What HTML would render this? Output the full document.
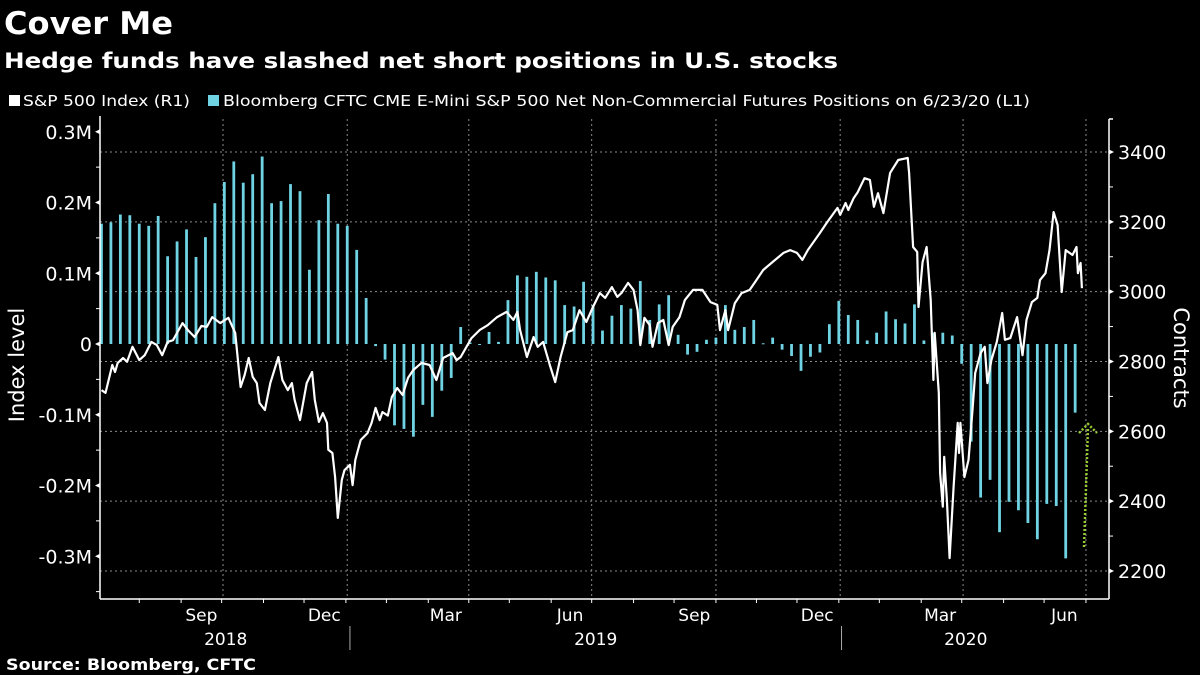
<!DOCTYPE html>
<html><head><meta charset="utf-8">
<style>
html,body{margin:0;padding:0;background:#000;width:1200px;height:675px;overflow:hidden}
svg text{font-family:"DejaVu Sans","Liberation Sans",sans-serif;fill:#fff}
</style></head>
<body>
<svg id="chart" width="1200" height="675" viewBox="0 0 1200 675" xmlns="http://www.w3.org/2000/svg">
<rect width="1200" height="675" fill="#000"/>
<text x="4" y="34" font-size="31" font-weight="bold" textLength="169" lengthAdjust="spacingAndGlyphs">Cover Me</text>
<text x="4" y="68" font-size="21" font-weight="bold" textLength="834" lengthAdjust="spacingAndGlyphs">Hedge funds have slashed net short positions in U.S. stocks</text>
<g>
<g><rect x="9" y="95" width="11" height="11" fill="#fff"/><text x="23" y="106" font-size="15" textLength="167" lengthAdjust="spacingAndGlyphs">S&amp;P 500 Index (R1)</text></g>
<g><rect x="208" y="95" width="11" height="11" fill="#6fd3e3"/><text x="223" y="106" font-size="15" textLength="807" lengthAdjust="spacingAndGlyphs">Bloomberg CFTC CME E-Mini S&amp;P 500 Net Non-Commercial Futures Positions  on 6/23/20 (L1)</text></g>
</g>
<g id="grid"></g>
<g id="bars"></g>
<g id="line"></g>
<g id="axes"></g>
<text transform="translate(24,365) rotate(-90)" text-anchor="middle" font-size="21">Index level</text>
<text transform="translate(1174,358) rotate(90)" text-anchor="middle" font-size="21">Contracts</text>
<text x="6" y="670" font-size="16" font-weight="bold" textLength="250" lengthAdjust="spacingAndGlyphs">Source: Bloomberg, CFTC</text>
</svg>
<script>
// CFTC net positions (thousands of contracts), weekly from 2018-07-03
const cftcValues = [170,172,183,182,170,167,181,124,145,162,123,151,199,229,258,228,240,265,199,202,226,216,105,175,212,170,167,133,65,
-3,-22,-115,-120,-131,-86,-103,-66,-48,24,2,-1,17,3,62,97,95,102,94,90,55,53,88,55,19,40,55,50,89,34,56,69,13,-15,-11,6,9,55,20,24,34,1,9,-8,-17,-38,-18,-12,28,61,41,34,5,16,46,35,29,56,5,16,16,12,-28,-138,-217,-192,-266,-223,-235,-253,-276,-226,-229,-303,-97];
// S&P 500: days since 2018-07-01 and index level
const spxDays = [2,5,10,12,14,18,21,25,30,34,39,43,47,51,55,62,66,71,76,80,84,90,96,101,105,108,111,114,117,119,123,127,133,136,140,143,145,149,154,158,160,163,166,169,170,173,175,177,180,182,186,188,190,194,199,202,205,208,210,214,217,221,225,229,233,239,245,250,255,262,265,268,276,282,288,295,302,307,310,312,317,322,325,329,334,338,342,347,351,356,361,366,371,375,380,384,387,392,396,399,401,404,408,410,414,418,422,425,430,434,440,447,453,458,460,464,466,471,476,482,487,492,499,507,512,517,521,525,534,539,547,549,553,555,559,562,567,571,574,577,581,586,592,599,600,603,606,607,610,613,616,618,619,622,623,625,626,628,630,633,636,637,638,641,644,647,649,653,656,658,661,665,669,671,675,680,684,687,691,695,697,701,704,707,710,713,716,721,724,725,727,728];
const spxValues = [2718,2710,2790,2770,2796,2810,2799,2842,2804,2818,2856,2847,2818,2856,2861,2910,2890,2870,2902,2899,2927,2910,2925,2882,2727,2761,2810,2756,2738,2681,2661,2738,2813,2747,2718,2738,2690,2632,2738,2770,2690,2627,2652,2624,2547,2538,2469,2352,2461,2489,2504,2446,2518,2575,2595,2624,2667,2632,2655,2645,2698,2724,2704,2753,2776,2796,2790,2747,2810,2824,2804,2813,2867,2890,2904,2927,2942,2919,2942,2890,2813,2870,2842,2856,2790,2741,2813,2884,2890,2947,2913,2956,2996,2982,3013,2985,2996,3025,3005,2947,2847,2925,2904,2842,2910,2919,2847,2899,2927,2976,3005,3005,2970,2962,2890,2947,2890,2967,2996,3005,3033,3062,3085,3111,3119,3111,3091,3119,3168,3197,3240,3220,3254,3234,3268,3285,3325,3320,3243,3282,3225,3340,3377,3383,3340,3128,3114,2956,3085,3128,2976,2747,2882,2710,2481,2384,2527,2403,2237,2441,2624,2538,2624,2469,2518,2661,2767,2824,2842,2738,2804,2856,2939,2862,2867,2927,2818,2919,2970,2982,3033,3053,3119,3228,3191,2999,3119,3105,3128,3053,3082,3010];
const leftTicks = [0.3,0.2,0.1,0,-0.1,-0.2,-0.3];
const leftTickLabels = ["0.3M","0.2M","0.1M","0","-0.1M","-0.2M","-0.3M"];
const rightTicks = [3400,3200,3000,2800,2600,2400,2200];
const monthLabels = ["Sep","Dec","Mar","Jun","Sep","Dec","Mar","Jun"];
const monthLabelDays = [76,167,257,349,441,532,623,715];
const gridDays = [92,184,274,365,457,549,640,731];
const yearLabels = ["2018","2019","2020"];
const yearLabelDays = [94,368,642];
const yearSepDays = [186,550];

const NS="http://www.w3.org/2000/svg";
const pxPerDay = 1.3505, x0 = 98.75;
const xDay = d => x0 + d*pxPerDay;
const xWeek = w => xDay(2 + w*7);
const yLeft = v => 344 - v*707.5;         // v in millions
const yRight = v => 152 + (3400-v)*69.83/200;
function mk(tag, attrs, parent){const e=document.createElementNS(NS,tag);for(const k in attrs)e.setAttribute(k,attrs[k]);parent.appendChild(e);return e;}

const grid=document.getElementById('grid');
rightTicks.forEach(v=>{
  const l=mk('line',{x1:100,x2:1109,y1:yRight(v),y2:yRight(v),stroke:'#8a8a8a','stroke-width':1,'stroke-dasharray':'2,3'},grid);
  
  
});
gridDays.forEach(d=>{
  const l=mk('line',{x1:xDay(d),x2:xDay(d),y1:119,y2:599,stroke:'#8a8a8a','stroke-width':1,'stroke-dasharray':'2,3'},grid);
  
  
});

const bars=document.getElementById('bars');
cftcValues.forEach((v,i)=>{
  const x=xWeek(i), y0=yLeft(0), y1=yLeft(v/1000);
  const r=mk('rect',{x:x-1.4,y:Math.min(y0,y1),width:2.8,height:Math.max(1,Math.abs(y1-y0)),fill:'#6fd3e3'},bars);
  
  
});

const lineG=document.getElementById('line');
const pts=spxDays.map((d,i)=>xDay(d).toFixed(1)+','+yRight(spxValues[i]).toFixed(1)).join(' ');
const pl=mk('polyline',{points:pts,fill:'none',stroke:'#fff','stroke-width':2.2,'stroke-linejoin':'round'},lineG);



const arr=mk('g',{},lineG);


mk('path',{d:'M1084,547 L1088,428',stroke:'#9acd32','stroke-width':2.5,'stroke-dasharray':'2,2',fill:'none'},arr);
mk('path',{d:'M1079,433 L1088,424 L1097,433',stroke:'#9acd32','stroke-width':2.5,'stroke-dasharray':'2,2',fill:'none'},arr);

const axes=document.getElementById('axes');
const la=mk('line',{x1:100,x2:100,y1:116,y2:599,stroke:'#fff','stroke-width':1.5},axes);


const ra=mk('line',{x1:1109,x2:1109,y1:119,y2:599,stroke:'#fff','stroke-width':1.5},axes);


const ba=mk('line',{x1:100,x2:1109,y1:599,y2:599,stroke:'#fff','stroke-width':1.5},axes);


mk('line',{x1:1109,x2:1113,y1:119,y2:119,stroke:'#fff','stroke-width':1.5},axes);

leftTicks.forEach((v,i)=>{
  const y=yLeft(v);
  mk('path',{d:`M95,${y} L100,${y-2.5} L100,${y+2.5}Z`,fill:'#fff'},axes);
  const t=mk('text',{x:92,y:y+7,'text-anchor':'end','font-size':19},axes);
  t.textContent=leftTickLabels[i];
  
  
  if(i<leftTicks.length-1){const ym=yLeft(v-0.05);mk('line',{x1:96,x2:100,y1:ym,y2:ym,stroke:'#fff'},axes);}
});
mk('line',{x1:96,x2:100,y1:yLeft(-0.35),y2:yLeft(-0.35),stroke:'#fff'},axes);
rightTicks.forEach(v=>{
  const y=yRight(v);
  mk('path',{d:`M1114,${y} L1109,${y-2.5} L1109,${y+2.5}Z`,fill:'#fff'},axes);
  const t=mk('text',{x:1118,y:y+7,'font-size':19},axes);
  t.textContent=String(v);
  
  
  const ym=yRight(v-100);
  if(v>2200) mk('line',{x1:1109,x2:1113,y1:ym,y2:ym,stroke:'#fff'},axes);
});
for(let m=0;m<24;m++){
  const d=Math.round((m+1)*30.44);
  if(xDay(d)>1105) break;
  mk('line',{x1:xDay(d),x2:xDay(d),y1:599,y2:603,stroke:'#fff'},axes);
}
monthLabels.forEach((s,i)=>{
  const t=mk('text',{x:xDay(monthLabelDays[i]),y:621,'text-anchor':'middle','font-size':17},axes);
  t.textContent=s;
  
  
});
yearLabels.forEach((s,i)=>{
  const t=mk('text',{x:xDay(yearLabelDays[i]),y:645,'text-anchor':'middle','font-size':17},axes);
  t.textContent=s;
  
  
});
yearSepDays.forEach(d=>{
  mk('line',{x1:xDay(d),x2:xDay(d),y1:626,y2:650,stroke:'#aaa'},axes);
});
</script>
</body></html>
